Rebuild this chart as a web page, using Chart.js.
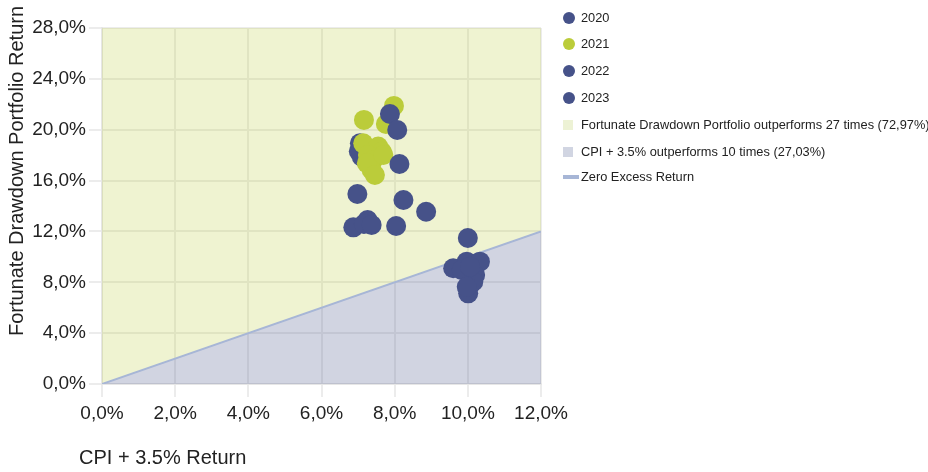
<!DOCTYPE html>
<html>
<head>
<meta charset="utf-8">
<script src="https://cdn.jsdelivr.net/npm/chart.js@4/dist/chart.umd.min.js"></script>
<style>
  body { margin: 0; background: #fff; font-family: "Liberation Sans", Arial, sans-serif; }
  #wrap { position: relative; width: 928px; height: 472px; }
  #legend { position: absolute; left: 563px; top: 0; font-size: 12.8px; color: #222; }
  .item { position: absolute; left: 0; height: 16px; line-height: 16px; white-space: nowrap; display: flex; align-items: center; }
  .mk { display: inline-block; margin-right: 6px; flex: none; }
</style>
</head>
<body>
<div id="wrap">
  <canvas id="c" width="928" height="472"></canvas>
  <div id="legend"></div>
</div>
<script>
// values (percent)
const YEARS = ["2020", "2021", "2022", "2023"];
const cpi2020 = [7.87, 8.07, 8.13, 8.24, 8.86, 8.04, 7.37];
const ret2020 = [21.24, 19.98, 17.30, 14.47, 13.55, 12.43, 12.51];
const cpi2021 = [7.98, 7.16, 7.76, 7.14, 7.55, 7.65, 7.27, 7.41, 7.37, 7.24, 7.69, 7.46];
const ret2021 = [21.87, 20.77, 20.45, 18.93, 18.67, 18.27, 18.01, 17.62, 16.83, 17.36, 18.01, 16.44];
const cpi2022 = [10.0, 9.60, 9.97, 10.33, 10.20, 10.06, 10.01, 10.15, 9.83, 10.06, 9.97];
const ret2022 = [11.48, 9.10, 9.62, 9.62, 8.57, 7.79, 7.13, 8.05, 8.97, 9.23, 7.65];
const cpi2023 = [7.05, 7.10, 6.98, 6.87, 7.26, 7.16, 7.02];
const ret2023 = [18.93, 17.88, 14.94, 12.32, 12.90, 12.58, 18.30];

const zeroX = [0, 12];
const zeroY = [0, 12];
const topX = [0, 12];
const topY = [28, 28];

const X_TITLE = "CPI + 3.5% Return";
const Y_TITLE = "Fortunate Drawdown Portfolio Return";
const LBL_ABOVE = "Fortunate Drawdown Portfolio outperforms 27 times (72,97%)";
const LBL_BELOW = "CPI + 3.5% outperforms 10 times (27,03%)";
const LBL_ZERO = "Zero Excess Return";

const BLUE = "#465289", GREEN = "#bbcc3a";
const FILL_UP = "rgba(187,204,58,0.23)", FILL_DN = "rgba(70,82,137,0.25)";
const LINE_C = "#a7b6d6";
const FONT = "'Liberation Sans', Arial, sans-serif";

const pts = (xs, ys) => xs.map((x, i) => ({ x, y: ys[i] }));
const pct = (v) => v.toFixed(1).replace(".", ",") + "%";

function pointSet(label, xs, ys, color){
  return { type: "scatter", label, data: pts(xs, ys), backgroundColor: color, borderColor: color,
    borderWidth: 0, pointRadius: 10, pointHoverRadius: 10 };
}

const datasets = [
  pointSet(YEARS[0], cpi2020, ret2020, BLUE),
  pointSet(YEARS[1], cpi2021, ret2021, GREEN),
  pointSet(YEARS[2], cpi2022, ret2022, BLUE),
  pointSet(YEARS[3], cpi2023, ret2023, BLUE),
  { type: "line", label: LBL_ZERO, data: pts(zeroX, zeroY), borderColor: LINE_C, borderWidth: 2,
    pointRadius: 0, fill: false },
  { type: "line", label: LBL_BELOW, data: pts(zeroX, zeroY), borderWidth: 0, borderColor: "transparent",
    backgroundColor: FILL_DN, pointRadius: 0, fill: "origin" },
  { type: "line", label: LBL_ABOVE, data: pts(topX, topY), borderWidth: 0, borderColor: "transparent",
    backgroundColor: FILL_UP, pointRadius: 0, fill: "-1" }
];

const axisTitles = {
  id: "axisTitles",
  afterDraw(chart){
    const ctx = chart.ctx;
    ctx.save();
    ctx.fillStyle = "#222";
    ctx.font = "20px " + FONT;
    ctx.textBaseline = "middle";
    ctx.textAlign = "left";
    ctx.fillText(X_TITLE, 79, 458);
    ctx.translate(17, 171);
    ctx.rotate(-Math.PI / 2);
    ctx.textAlign = "center";
    ctx.fillText(Y_TITLE, 0, 0);
    ctx.restore();
  }
};

const gridOpts = { color: "#ececec", lineWidth: 2, tickLength: 13, drawTicks: true };

new Chart(document.getElementById("c").getContext("2d"), {
  type: "scatter",
  data: { datasets },
  options: {
    responsive: false,
    animation: false,
    layout: { padding: { top: 28, right: 387, left: 0, bottom: 0 } },
    plugins: { legend: { display: false }, tooltip: { enabled: false } },
    scales: {
      x: {
        type: "linear", min: 0, max: 12,
        grid: gridOpts,
        border: { color: "#e6e6e6", width: 2 },
        ticks: { stepSize: 2, padding: 5, color: "#222", font: { family: FONT, size: 19 }, callback: pct },
        afterFit: (s) => { s.height = 88; }
      },
      y: {
        type: "linear", min: 0, max: 28,
        grid: gridOpts,
        border: { color: "#e6e6e6", width: 2 },
        ticks: { stepSize: 4, padding: 3, color: "#222", font: { family: FONT, size: 19 }, callback: pct },
        afterFit: (s) => { s.width = 102; }
      }
    }
  },
  plugins: [axisTitles]
});

// legend
const legendItems = [
  { text: YEARS[0], kind: "dot", color: BLUE },
  { text: YEARS[1], kind: "dot", color: GREEN },
  { text: YEARS[2], kind: "dot", color: BLUE },
  { text: YEARS[3], kind: "dot", color: BLUE },
  { text: LBL_ABOVE, kind: "box", color: "#edf2d5" },
  { text: LBL_BELOW, kind: "box", color: "#d1d5e2" },
  { text: LBL_ZERO, kind: "line", color: LINE_C }
];
const centers = [17.7, 44.3, 71, 97.7, 125, 151.7, 176.7];
const lg = document.getElementById("legend");
legendItems.forEach((it, i) => {
  const d = document.createElement("div");
  d.className = "item";
  d.style.top = (centers[i] - 8) + "px";
  const m = document.createElement("span");
  m.className = "mk";
  if (it.kind === "dot") { m.style.cssText += "width:12px;height:12px;border-radius:50%;background:" + it.color; }
  else if (it.kind === "box") { m.style.cssText += "width:10px;height:10px;margin-right:8px;background:" + it.color; }
  else { m.style.cssText += "width:16px;height:4px;margin-right:2px;background:" + it.color; }
  d.appendChild(m);
  d.appendChild(document.createTextNode(it.text));
  lg.appendChild(d);
});
</script>
</body>
</html>
